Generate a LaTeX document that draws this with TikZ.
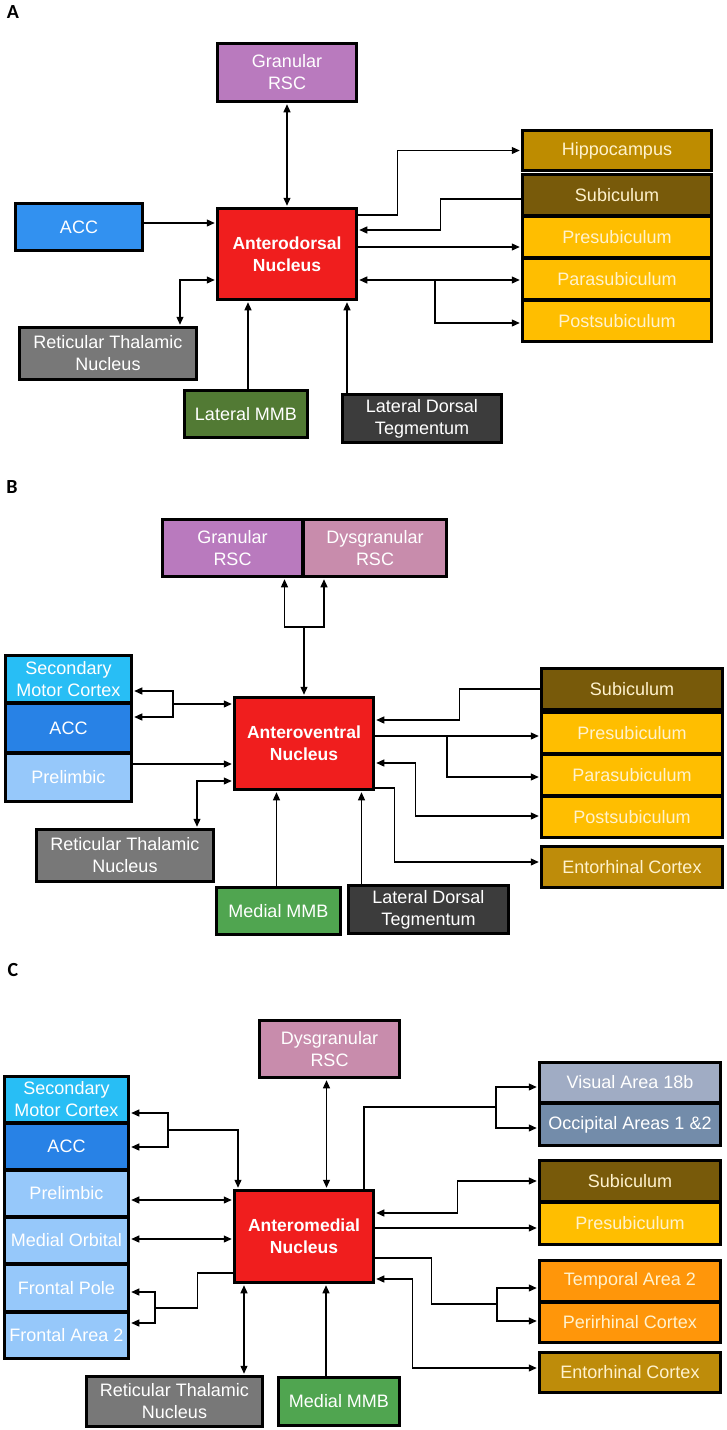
\documentclass[tikz,border=0pt]{standalone}
\usepackage{fontspec}
\setmainfont{Liberation Sans}
\setsansfont{Liberation Sans}
\newfontfamily\panelfont{Carlito}
\usepackage{xcolor}
\usepackage{tikz}
\usetikzlibrary{arrows.meta, positioning}
\definecolor{grancol}{RGB}{185,122,190}
\definecolor{dysgcol}{RGB}{200,140,172}
\definecolor{acccol}{RGB}{50,145,240}
\definecolor{accdark}{RGB}{40,130,230}
\definecolor{smccol}{RGB}{40,190,245}
\definecolor{plcol}{RGB}{150,200,250}
\definecolor{nucred}{RGB}{240,30,30}
\definecolor{hipcol}{RGB}{190,140,0}
\definecolor{subcol}{RGB}{120,90,10}
\definecolor{prescol}{RGB}{255,190,0}
\definecolor{entcol}{RGB}{190,140,10}
\definecolor{rtncol}{RGB}{120,120,120}
\definecolor{lmmbcol}{RGB}{82,122,52}
\definecolor{mmmbcol}{RGB}{80,165,80}
\definecolor{ldtcol}{RGB}{60,60,60}
\definecolor{viscol}{RGB}{160,172,196}
\definecolor{occcol}{RGB}{115,140,170}
\definecolor{tmpcol}{RGB}{255,150,10}
\definecolor{cream}{RGB}{255,242,205}

\begin{document}
\begin{tikzpicture}[x=1pt, y=-1pt,
  area/.style={rectangle, draw=black, line width=2.5pt, text=white, align=center,
               inner sep=1pt, font=\fontsize{18}{22}\selectfont},
  warm/.style={area, text=cream},
  nucleus/.style={area, fill=nucred, font=\bfseries\fontsize{17.5}{22}\selectfont},
  wh/.style 2 args={minimum width=#1, minimum height=#2},
  panel/.style={font=\panelfont\bfseries\fontsize{20}{24}\selectfont, inner sep=0pt},
  arr/.style={-{Triangle[length=8pt,width=7pt]}, line width=1.2pt, shorten >=1.5pt},
  darr/.style={{Triangle[length=8pt,width=7pt]}-{Triangle[length=8pt,width=7pt]},
               line width=1.2pt, shorten >=1.5pt, shorten <=1.5pt},
  plain/.style={line width=1.2pt},
]
\useasboundingbox (0,0) rectangle (726,1430);

% panel A
\node[panel] (labA) at (13,12) {A};
\node[area, fill=grancol, wh={139}{58}] (grA) at (287,72.5) {Granular\\RSC};
\node[nucleus, wh={139}{91}] (adn) at (287,254) {Anterodorsal\\Nucleus};
\node[area, fill=acccol, wh={127}{47}] (accA) at (79,227) {ACC};
\node[area, fill=rtncol, wh={177}{52}] (rtnA) at (108,353.5) {Reticular Thalamic\\Nucleus};
\node[area, fill=lmmbcol, wh={123}{47}] (mmbA) at (246,414) {Lateral MMB};
\node[area, fill=ldtcol, wh={159}{48}] (ldtA) at (422,418.5) {Lateral Dorsal\\Tegmentum};
\node[warm, fill=hipcol, wh={189}{40}] (hipA) at (617,150.5) {Hippocampus};
\node[warm, fill=subcol, wh={189}{41}] (subA) at (617,195) {Subiculum};
\node[warm, fill=prescol, wh={189}{41}] (preA) at (617,237) {Presubiculum};
\node[warm, fill=prescol, wh={189}{41}] (paraA) at (617,279) {Parasubiculum};
\node[warm, fill=prescol, wh={189}{41}] (postA) at (617,321) {Postsubiculum};
\coordinate (jA) at (435,280);

\draw[darr] (grA.south) -- (adn.north);
\draw[arr] (accA.east |- 0,223) -- (adn.west |- 0,223);
\draw[arr] (adn.east |- 0,215) -- ++(40,0) |- (hipA.west);
\draw[arr] (subA.west |- 0,199) -- ++(-81,0) |- (adn.east |- 0,230);
\draw[arr] (adn.east |- 0,247) -- (preA.west |- 0,247);
\draw[darr] (adn.east |- jA) -- (paraA.west |- jA);
\draw[arr] (jA) |- (postA.west |- 0,323);
\draw[darr] (adn.west |- 0,280) -| ([xshift=72pt]rtnA.north);
\draw[arr] ([xshift=2pt]mmbA.north) -- ([xshift=2pt]mmbA.north |- adn.south);
\draw[arr] ([xshift=-75pt]ldtA.north) -- ([xshift=-75pt]ldtA.north |- adn.south);

% panel B
\node[panel] (labB) at (12,487) {B};
\node[area, fill=grancol, wh={140}{57}] (grB) at (232.5,548) {Granular\\RSC};
\node[area, fill=dysgcol, wh={143}{57}] (dgB) at (375,548) {Dysgranular\\RSC};
\node[nucleus, wh={139}{92}] (avn) at (304,743.5) {Anteroventral\\Nucleus};
\node[area, fill=smccol, wh={126}{47}] (smcB) at (68.5,679) {Secondary\\Motor Cortex};
\node[area, fill=accdark, wh={126}{49}] (accB) at (68.5,728) {ACC};
\node[area, fill=plcol, wh={126}{48}] (plB) at (68.5,777.5) {Prelimbic};
\node[area, fill=rtncol, wh={177}{52}] (rtnB) at (125,855.5) {Reticular Thalamic\\Nucleus};
\node[area, fill=mmmbcol, wh={124}{47}] (mmbB) at (278.5,911) {Medial MMB};
\node[area, fill=ldtcol, wh={160}{48}] (ldtB) at (428.5,909.5) {Lateral Dorsal\\Tegmentum};
\node[warm, fill=subcol, wh={181}{41}] (subB) at (632,689) {Subiculum};
\node[warm, fill=prescol, wh={181}{41}] (preB) at (632,733) {Presubiculum};
\node[warm, fill=prescol, wh={181}{41}] (paraB) at (632,775) {Parasubiculum};
\node[warm, fill=prescol, wh={181}{41}] (postB) at (632,817) {Postsubiculum};
\node[warm, fill=entcol, wh={181}{41}] (entB) at (632,867) {Entorhinal Cortex};
\coordinate (jB) at (304,627);
\coordinate (jB1) at (173,704);
\coordinate (jB2) at (447,736);

\draw[arr] (jB) -| ([xshift=52pt]grB.south);
\draw[arr] (jB) -| ([xshift=-51pt]dgB.south);
\draw[arr] (jB) -- (jB |- avn.north);
\draw[arr] (jB1) -- (avn.west |- jB1);
\draw[arr] (jB1) |- (smcB.east |- 0,691);
\draw[arr] (jB1) |- (accB.east |- 0,717);
\draw[arr] (plB.east |- 0,764) -- (avn.west |- 0,764);
\draw[darr] (avn.west |- 0,781) -| ([xshift=72pt]rtnB.north);
\draw[arr] ([xshift=-2pt]mmbB.north) -- ([xshift=-2pt]mmbB.north |- avn.south);
\draw[arr] ([xshift=-67pt]ldtB.north) -- ([xshift=-67pt]ldtB.north |- avn.south);
\draw[arr] (subB.west) -- ++(-81,0) |- (avn.east |- 0,720);
\draw[arr] (avn.east |- jB2) -- (preB.west |- jB2);
\draw[arr] (jB2) |- (paraB.west |- 0,777);
\draw[darr] (avn.east |- 0,763) -- ++(41,0) |- (postB.west |- 0,816);
\draw[arr] (avn.east |- 0,788) -- ++(20,0) |- (entB.west |- 0,862);

% panel C
\node[panel] (labC) at (13,970) {C};
\node[area, fill=dysgcol, wh={140}{57}] (dgC) at (329.5,1049) {Dysgranular\\RSC};
\node[nucleus, wh={139}{92}] (amn) at (304,1236.5) {Anteromedial\\Nucleus};
\node[area, fill=smccol, wh={124}{46}] (smcC) at (66.5,1099.5) {Secondary\\Motor Cortex};
\node[area, fill=accdark, wh={124}{46}] (accC) at (66.5,1146.5) {ACC};
\node[area, fill=plcol, wh={124}{46}] (plC) at (66.5,1193.5) {Prelimbic};
\node[area, fill=plcol, wh={124}{46}] (moC) at (66.5,1240.5) {Medial Orbital};
\node[area, fill=plcol, wh={124}{47}] (fpC) at (66.5,1288) {Frontal Pole};
\node[area, fill=plcol, wh={124}{46}] (fa2C) at (66.5,1335.5) {Frontal Area 2};
\node[area, fill=rtncol, wh={176}{50}] (rtnC) at (174.5,1401.5) {Reticular Thalamic\\Nucleus};
\node[area, fill=mmmbcol, wh={121}{48}] (mmbC) at (339,1401.5) {Medial MMB};
\node[area, fill=viscol, wh={181}{40}] (visC) at (630,1082.5) {Visual Area 18b};
\node[area, fill=occcol, wh={181}{42}] (occC) at (630,1124.5) {Occipital Areas 1 \&2};
\node[warm, fill=subcol, wh={181}{41}] (subC) at (630,1181) {Subiculum};
\node[warm, fill=prescol, wh={181}{42}] (preC) at (630,1223.5) {Presubiculum};
\node[warm, fill=tmpcol, wh={181}{41}] (tmpC) at (630,1281) {Temporal Area 2};
\node[warm, fill=tmpcol, wh={181}{40}] (prhC) at (630,1322.5) {Perirhinal Cortex};
\node[warm, fill=entcol, wh={181}{40}] (entC) at (630,1372.5) {Entorhinal Cortex};
\coordinate (jC1) at (168,1130);
\coordinate (jC2) at (496,1107);
\coordinate (jC3) at (497,1304);
\coordinate (jC4) at (155,1308);

\draw[arr] (jC1) -| ([xshift=-66pt]amn.north);
\draw[arr] (jC1) |- (smcC.east |- 0,1113);
\draw[arr] (jC1) |- (accC.east |- 0,1147);
\draw[darr] ([xshift=-3pt]dgC.south) -- ([xshift=-3pt]dgC.south |- amn.north);
\draw[plain] ([xshift=60pt]amn.north) |- (jC2);
\draw[arr] (jC2) |- (visC.west |- 0,1087);
\draw[arr] (jC2) |- (occC.west |- 0,1128);
\draw[darr] (amn.east |- 0,1213) -- ++(83,0) |- (subC.west);
\draw[arr] (amn.east |- 0,1228) -- (preC.west |- 0,1228);
\draw[plain] (amn.east |- 0,1258) -- ++(57,0) |- (jC3);
\draw[arr] (jC3) |- (tmpC.west |- 0,1288);
\draw[arr] (jC3) |- (prhC.west |- 0,1321);
\draw[darr] (amn.east |- 0,1279) -- ++(38,0) |- (entC.west |- 0,1368);
\draw[darr] (plC.east |- 0,1200) -- (amn.west |- 0,1200);
\draw[darr] (moC.east |- 0,1239) -- (amn.west |- 0,1239);
\draw[plain] (amn.west |- 0,1273) -- ++(-36,0) |- (jC4);
\draw[arr] (jC4) |- (fpC.east |- 0,1292);
\draw[arr] (jC4) |- (fa2C.east |- 0,1323);
\draw[darr] ([xshift=-60pt]amn.south) -- ([xshift=-60pt]amn.south |- rtnC.north);
\draw[arr] ([xshift=-13pt]mmbC.north) -- ([xshift=-13pt]mmbC.north |- amn.south);

\end{tikzpicture}
\end{document}
